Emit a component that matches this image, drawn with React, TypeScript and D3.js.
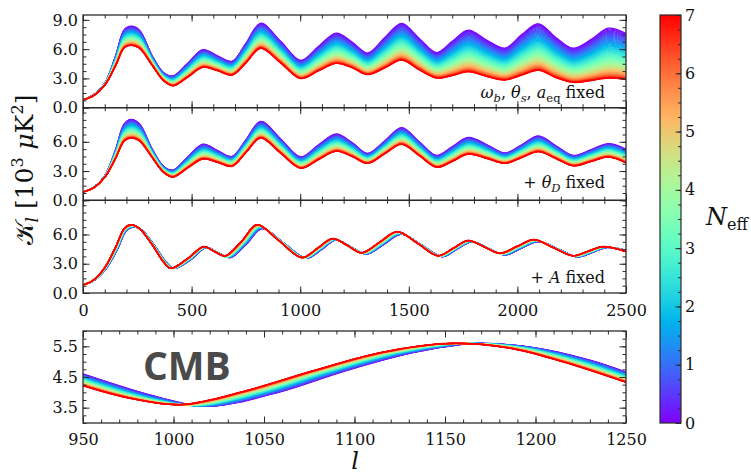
import React, { useEffect, useRef } from 'react';
import * as d3 from 'd3';

// N_eff colour range and the set of N_eff values drawn as lines
const neffDomain = [0, 7];
const neffLines = d3.range(0, 7.001, 0.1);
const neffTicks = [0, 1, 2, 3, 4, 5, 6, 7];
// how fast the curves close up towards N_eff = 7 (red lines bunch together)
const bunching = 1.5;

// multipole knots shared by the two upper panels (peaks, troughs, mid-points)
const lGrid = [0, 50, 100, 150, 190, 222, 260, 320, 370, 414, 480, 552, 620, 686, 750, 818, 910, 1002, 1085, 1166, 1240, 1310, 1390, 1467, 1548, 1628, 1700, 1774, 1860, 1943, 2020, 2097, 2177, 2257, 2340, 2419, 2500];

// panel 1: omega_b, theta_s, a_eq fixed  (N_eff = 0 and N_eff = 7), 10^3 muK^2
const p1Purple = [0.8, 1.35, 2.5, 5.3, 8.0, 8.35, 7.95, 5.25, 3.6, 3.25, 4.5, 5.95, 5.3, 4.75, 6.6, 8.65, 6.8, 4.85, 6.3, 7.65, 6.7, 5.6, 7.2, 8.65, 7.1, 5.65, 6.8, 7.95, 6.9, 6.1, 7.5, 8.6, 7.2, 6.1, 7.0, 8.15, 7.6];
const p1Red = [0.8, 1.25, 2.3, 4.3, 6.15, 6.4, 6.1, 4.3, 2.8, 2.25, 3.1, 4.15, 3.8, 3.35, 4.6, 6.1, 4.6, 3.0, 3.8, 4.55, 4.1, 3.4, 4.1, 4.9, 3.9, 3.05, 3.3, 3.7, 3.2, 2.85, 3.35, 3.85, 3.1, 2.6, 2.8, 3.05, 2.9];

// panel 2: + theta_D fixed
const p2Purple = [0.85, 1.35, 2.5, 5.2, 7.85, 8.3, 7.85, 5.2, 3.5, 3.1, 4.4, 5.75, 5.1, 4.5, 6.2, 8.1, 6.3, 4.45, 5.7, 6.8, 5.9, 4.8, 6.1, 7.45, 6.0, 4.6, 5.5, 6.45, 5.7, 4.85, 5.7, 6.6, 5.6, 4.6, 5.2, 5.8, 5.25];
const p2Red = [0.85, 1.3, 2.35, 4.3, 6.1, 6.4, 6.1, 4.35, 2.9, 2.4, 3.3, 4.25, 3.9, 3.5, 4.9, 6.4, 4.85, 3.3, 4.2, 5.05, 4.5, 3.8, 4.8, 5.75, 4.6, 3.4, 4.0, 4.75, 4.3, 3.8, 4.4, 5.0, 4.3, 3.55, 4.0, 4.45, 3.85];

// panel 3: + A fixed (curves shifted in l, so each has its own knots)
const p3PurpleL = [0, 52, 105, 158, 200, 234, 273, 333, 385, 420, 495, 567, 620, 678, 752, 825, 925, 1029, 1098, 1165, 1235, 1307, 1387, 1466, 1560, 1655, 1722, 1789, 1865, 1944, 2020, 2096, 2188, 2279, 2345, 2410, 2500];
const p3Purple = [0.82, 1.3, 2.45, 4.45, 6.4, 6.78, 6.4, 4.75, 3.1, 2.53, 3.4, 4.65, 4.15, 3.63, 5.0, 6.6, 5.1, 3.56, 4.45, 5.45, 4.7, 4.0, 5.0, 6.03, 4.9, 3.73, 4.5, 5.24, 4.6, 3.9, 4.6, 5.27, 4.5, 3.7, 4.15, 4.66, 4.38];
const p3RedL = [0, 50, 100, 150, 190, 221, 260, 320, 370, 404, 480, 556, 605, 654, 730, 801, 900, 1008, 1080, 1149, 1215, 1283, 1365, 1446, 1540, 1634, 1705, 1773, 1845, 1920, 2000, 2075, 2165, 2255, 2325, 2394, 2500];
const p3Red = [0.82, 1.35, 2.6, 4.7, 6.6, 7.0, 6.6, 4.9, 3.2, 2.53, 3.5, 4.75, 4.25, 3.8, 5.3, 7.0, 5.4, 3.63, 4.6, 5.58, 4.9, 4.12, 5.2, 6.3, 5.1, 3.82, 4.6, 5.38, 4.75, 4.08, 4.8, 5.48, 4.65, 3.82, 4.28, 4.75, 4.25];

// CMB zoom panel, 950 < l < 1250
const p4PurpleL = [950, 993, 1020, 1058, 1095, 1133, 1166, 1200, 1230, 1250];
const p4Purple = [4.6, 3.82, 3.55, 4.0, 4.7, 5.3, 5.59, 5.45, 5.05, 4.66];
const p4RedL = [950, 975, 1004, 1040, 1077, 1115, 1150, 1185, 1215, 1250];
const p4Red = [4.22, 3.82, 3.6, 4.05, 4.7, 5.3, 5.59, 5.45, 5.0, 4.33];

const xTicksTop = [0, 500, 1000, 1500, 2000, 2500];
const xTicksZoom = [950, 1000, 1050, 1100, 1150, 1200, 1250];
const yTicksFull = [0, 3, 6, 9];
const yTicksPart = [0, 3, 6];
const yTicksZoom = [3.5, 4.5, 5.5];

const serif = '"DejaVu Serif", serif';
const frame = '#2b2b2b';

// matplotlib "rainbow" colormap
function rainbow(t) {
  const r = Math.min(1, Math.abs(2 * t - 0.5));
  const g = Math.sin(Math.PI * t);
  const b = Math.cos((Math.PI * t) / 2);
  return d3.rgb(r * 255, g * 255, b * 255).toString();
}

function App() {
  const ref = useRef(null);

  useEffect(() => {
    const svg = d3.select(ref.current);
    svg.selectAll('*').remove();

    const left = 83;
    const right = 626;
    const ph = (293 - 15) / 3;

    const panels = [
      { top: 15, bottom: 15 + ph, xd: [0, 2500], yd: [0, 9.5], pL: lGrid, pV: p1Purple, rL: lGrid, rV: p1Red, yt: yTicksFull, ym: 0.75, xt: xTicksTop, xm: 100, labels: false },
      { top: 15 + ph, bottom: 15 + 2 * ph, xd: [0, 2500], yd: [0, 9.5], pL: lGrid, pV: p2Purple, rL: lGrid, rV: p2Red, yt: yTicksPart, ym: 0.75, xt: xTicksTop, xm: 100, labels: false },
      { top: 15 + 2 * ph, bottom: 293, xd: [0, 2500], yd: [0, 9.5], pL: p3PurpleL, pV: p3Purple, rL: p3RedL, rV: p3Red, yt: yTicksPart, ym: 0.75, xt: xTicksTop, xm: 100, labels: true, pad: 12 },
      { top: 331, bottom: 423, xd: [950, 1250], yd: [3, 6], pL: p4PurpleL, pV: p4Purple, rL: p4RedL, rV: p4Red, yt: yTicksZoom, ym: 0.25, xt: xTicksZoom, xm: 10, labels: true, pad: 10.5 },
    ];

    const styleAxis = (a) => {
      a.select('.domain').remove();
      a.attr('font-family', serif).attr('font-size', 16);
      a.selectAll('line').attr('stroke', frame).attr('stroke-width', 1);
      a.selectAll('text').attr('fill', '#111');
    };

    panels.forEach((p, k) => {
      const x = d3.scaleLinear().domain(p.xd).range([left, right]);
      const y = d3.scaleLinear().domain(p.yd).range([p.bottom, p.top]);

      svg.append('clipPath').attr('id', `clip${k}`)
        .append('rect')
        .attr('x', left).attr('y', p.top)
        .attr('width', right - left).attr('height', p.bottom - p.top);

      const line = d3.line()
        .x(d => x(d[0]))
        .y(d => y(d[1]))
        .curve(d3.curveCatmullRom.alpha(0.5));

      const g = svg.append('g').attr('clip-path', `url(#clip${k})`);
      neffLines.forEach(n => {
        const t = (n - neffDomain[0]) / (neffDomain[1] - neffDomain[0]);
        // share of the N_eff = 0 curve left in this line
        const w = Math.pow(1 - t, bunching);
        const pts = p.rL.map((_, i) => [
          p.rL[i] + (p.pL[i] - p.rL[i]) * w,
          p.rV[i] + (p.pV[i] - p.rV[i]) * w,
        ]);
        g.append('path')
          .attr('d', line(pts))
          .attr('fill', 'none')
          .attr('stroke', rainbow(t))
          .attr('stroke-width', n > 6.95 ? 1.6 : 1.3);
      });

      const xMinor = d3.range(p.xd[0], p.xd[1] + 0.001, p.xm);
      const yMinor = d3.range(p.yd[0], p.yd[1] + 0.001, p.ym);

      // bottom
      svg.append('g').attr('transform', `translate(0,${p.bottom})`)
        .call(d3.axisBottom(x).tickValues(xMinor).tickSize(-3.5).tickFormat(() => ''))
        .call(styleAxis);
      svg.append('g').attr('transform', `translate(0,${p.bottom})`)
        .call(d3.axisBottom(x).tickValues(p.xt).tickSize(-6.5).tickPadding(p.pad || 10)
          .tickFormat(p.labels ? d3.format('d') : () => ''))
        .call(styleAxis);
      // top
      svg.append('g').attr('transform', `translate(0,${p.top})`)
        .call(d3.axisTop(x).tickValues(xMinor).tickSize(-3.5).tickFormat(() => ''))
        .call(styleAxis);
      svg.append('g').attr('transform', `translate(0,${p.top})`)
        .call(d3.axisTop(x).tickValues(p.xt).tickSize(-6.5).tickFormat(() => ''))
        .call(styleAxis);
      // left
      svg.append('g').attr('transform', `translate(${left},0)`)
        .call(d3.axisLeft(y).tickValues(yMinor).tickSize(-3.5).tickFormat(() => ''))
        .call(styleAxis);
      svg.append('g').attr('transform', `translate(${left},0)`)
        .call(d3.axisLeft(y).tickValues(p.yt).tickSize(-6.5).tickPadding(5).tickFormat(d3.format('.1f')))
        .call(styleAxis);
      // right
      svg.append('g').attr('transform', `translate(${right},0)`)
        .call(d3.axisRight(y).tickValues(yMinor).tickSize(-3.5).tickFormat(() => ''))
        .call(styleAxis);
      svg.append('g').attr('transform', `translate(${right},0)`)
        .call(d3.axisRight(y).tickValues(p.yt).tickSize(-6.5).tickFormat(() => ''))
        .call(styleAxis);

      svg.append('rect')
        .attr('x', left).attr('y', p.top)
        .attr('width', right - left).attr('height', p.bottom - p.top)
        .attr('fill', 'none').attr('stroke', frame).attr('stroke-width', 1.3);
    });

    // panel annotations
    const note = (yPos, parts) => {
      const t = svg.append('text')
        .attr('x', 605).attr('y', yPos)
        .attr('text-anchor', 'end')
        .attr('font-family', serif).attr('font-size', 16).attr('fill', '#111');
      let shift = 0;
      parts.forEach(([s, style]) => {
        const ts = t.append('tspan').text(s);
        const sub = style.includes('sub');
        const dy = (sub ? 4 : 0) - shift;
        shift = sub ? 4 : 0;
        if (dy) ts.attr('dy', dy);
        if (sub) ts.attr('font-size', 11.5);
        if (style.includes('i')) ts.attr('font-style', 'italic');
      });
    };
    note(98, [['ω', 'i'], ['b', 'i sub'], [', ', ''], ['θ', 'i'], ['s', 'i sub'], [', ', ''], ['a', 'i'], ['eq', 'sub'], [' fixed', '']]);
    note(188, [['+ ', ''], ['θ', 'i'], ['D', 'i sub'], [' fixed', '']]);
    note(283, [['+ ', ''], ['A', 'i'], [' fixed', '']]);

    svg.append('text')
      .attr('x', 143).attr('y', 380)
      .attr('font-family', '"Open Sans", sans-serif').attr('font-weight', 700)
      .attr('font-size', 39).attr('fill', '#4a4a4a')
      .text('CMB');

    // y axis title
    const yt = svg.append('text')
      .attr('transform', 'translate(33,170) rotate(-90)')
      .attr('text-anchor', 'middle')
      .attr('font-family', serif).attr('font-size', 25).attr('fill', '#111');
    yt.append('tspan').text('𝒦');
    yt.append('tspan').text('l').attr('font-style', 'italic').attr('font-size', 17).attr('dy', 5);
    yt.append('tspan').text(' [10').attr('dy', -5);
    yt.append('tspan').text('3').attr('font-size', 16).attr('dy', -10);
    yt.append('tspan').text(' μ').attr('font-style', 'italic').attr('dy', 10);
    yt.append('tspan').text('K');
    yt.append('tspan').text('2').attr('font-size', 16).attr('dy', -10);
    yt.append('tspan').text(']').attr('dy', 10);

    // x axis title
    svg.append('text')
      .attr('x', 355).attr('y', 469)
      .attr('text-anchor', 'middle')
      .attr('font-family', serif).attr('font-style', 'italic')
      .attr('font-size', 24).attr('fill', '#111')
      .text('l');

    // colour bar
    const cbX = 660, cbW = 21, cbTop = 15, cbBottom = 423;
    const grad = svg.append('defs').append('linearGradient')
      .attr('id', 'neffGrad')
      .attr('x1', 0).attr('y1', 1).attr('x2', 0).attr('y2', 0);
    d3.range(0, 1.0001, 0.05).forEach(t => {
      grad.append('stop').attr('offset', t).attr('stop-color', rainbow(t));
    });
    svg.append('rect')
      .attr('x', cbX).attr('y', cbTop)
      .attr('width', cbW).attr('height', cbBottom - cbTop)
      .attr('fill', 'url(#neffGrad)');
    const c = d3.scaleLinear().domain(neffDomain).range([cbBottom, cbTop]);
    svg.append('g').attr('transform', `translate(${cbX + cbW},0)`)
      .call(d3.axisRight(c).tickValues(d3.range(0, 7.001, 0.25)).tickSize(-3).tickFormat(() => ''))
      .call(styleAxis);
    svg.append('g').attr('transform', `translate(${cbX + cbW},0)`)
      .call(d3.axisRight(c).tickValues(neffTicks).tickSize(-5.5).tickPadding(4).tickFormat(d3.format('d')))
      .call(styleAxis);
    svg.append('rect')
      .attr('x', cbX).attr('y', cbTop)
      .attr('width', cbW).attr('height', cbBottom - cbTop)
      .attr('fill', 'none').attr('stroke', frame).attr('stroke-width', 1.2);

    const nl = svg.append('text')
      .attr('x', 706).attr('y', 225)
      .attr('font-family', serif).attr('font-size', 24).attr('fill', '#111');
    nl.append('tspan').text('N').attr('font-style', 'italic');
    nl.append('tspan').text('eff').attr('font-size', 16).attr('dy', 5);
  }, []);

  return (
    <svg
      ref={ref}
      width={751}
      height={475}
      style={{ position: 'absolute', left: 0, top: 0, background: '#fff' }}
    />
  );
}

export default App;
